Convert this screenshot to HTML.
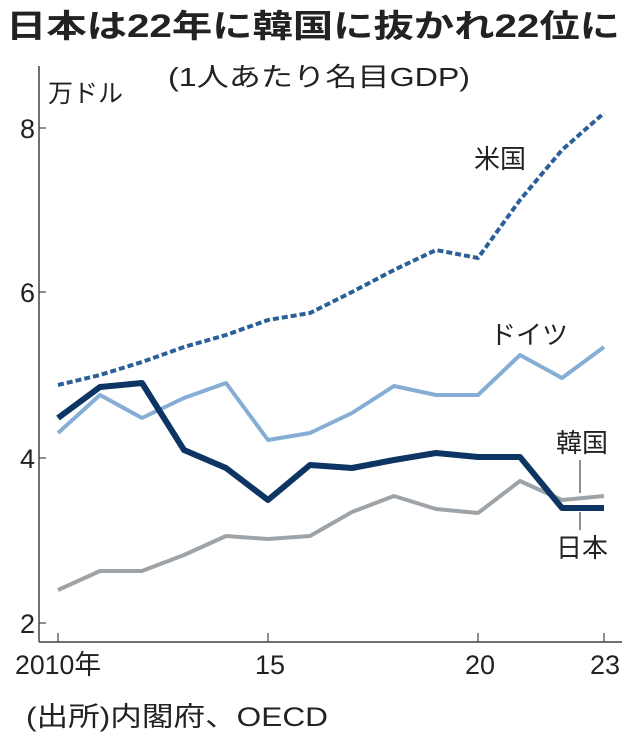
<!DOCTYPE html>
<html><head><meta charset="utf-8"><style>
body{margin:0;background:#fff;}
svg text{font-family:"Liberation Sans","Noto Sans CJK JP",sans-serif;fill:#222;}
</style></head><body>
<svg width="638" height="740" viewBox="0 0 638 740" xmlns="http://www.w3.org/2000/svg">
<text x="6" y="37" font-size="32" font-weight="bold" textLength="614" lengthAdjust="spacingAndGlyphs">日本は22年に韓国に抜かれ22位に</text>
<text x="168" y="86" font-size="26" textLength="302" lengthAdjust="spacingAndGlyphs">(1人あたり名目GDP)</text>
<text x="48" y="102" font-size="25">万ドル</text>
<line x1="39" y1="66" x2="39" y2="642" stroke="#444" stroke-width="1.5"/>
<line x1="39" y1="642" x2="622" y2="642" stroke="#444" stroke-width="1.5"/>
<g stroke="#444" stroke-width="1.2">
<line x1="39" y1="128" x2="46" y2="128"/><line x1="39" y1="292" x2="46" y2="292"/>
<line x1="39" y1="458" x2="46" y2="458"/><line x1="39" y1="623" x2="46" y2="623"/>
<line x1="58" y1="642" x2="58" y2="633"/><line x1="268" y1="642" x2="268" y2="633"/>
<line x1="478" y1="642" x2="478" y2="633"/><line x1="604" y1="642" x2="604" y2="633"/>
</g>
<g font-size="27" text-anchor="end">
<text x="35" y="138">8</text><text x="35" y="302">6</text><text x="35" y="468">4</text><text x="35" y="633">2</text>
</g>
<g font-size="27">
<text x="15" y="674" textLength="86" lengthAdjust="spacingAndGlyphs">2010年</text><text x="255" y="674">15</text><text x="465" y="674">20</text><text x="590" y="674">23</text>
<text x="26" y="726" textLength="302" lengthAdjust="spacingAndGlyphs">(出所)内閣府、OECD</text>
</g>
<g fill="none" stroke-linejoin="round" stroke-linecap="butt">
<polyline stroke="#9ea3a8" stroke-width="4" points="58,590 100,571 142,571 184,555 226,536 268,539 310,536 352,512 394,496 436,509 478,513 520,481 562,500 604,496"/>
<polyline stroke="#86aed4" stroke-width="4" points="58,433 100,395 142,418 184,398 226,383 268,440 310,433 352,413 394,386 436,395 478,395 520,355 562,378 604,347"/>
<polyline stroke="#2a5f9a" stroke-width="4" stroke-dasharray="6,3" points="58,385 100,375 142,362 184,347 226,335 268,320 310,313 352,292 394,270 436,250 478,258 520,200 562,150 604,113"/>
<polyline stroke="#0d3563" stroke-width="6" points="58,418 100,387 142,383 184,450 226,468 268,500 310,465 352,468 394,460 436,453 478,457 520,457 562,508 604,508"/>
</g>
<g font-size="26">
<text x="474" y="168">米国</text>
<text x="490" y="344">ドイツ</text>
<text x="556" y="452">韓国</text>
<text x="556" y="557">日本</text>
</g>
<line x1="580" y1="460" x2="580" y2="493" stroke="#444" stroke-width="1.2"/>
<line x1="580" y1="512" x2="580" y2="530" stroke="#444" stroke-width="1.2"/>
</svg>
</body></html>
